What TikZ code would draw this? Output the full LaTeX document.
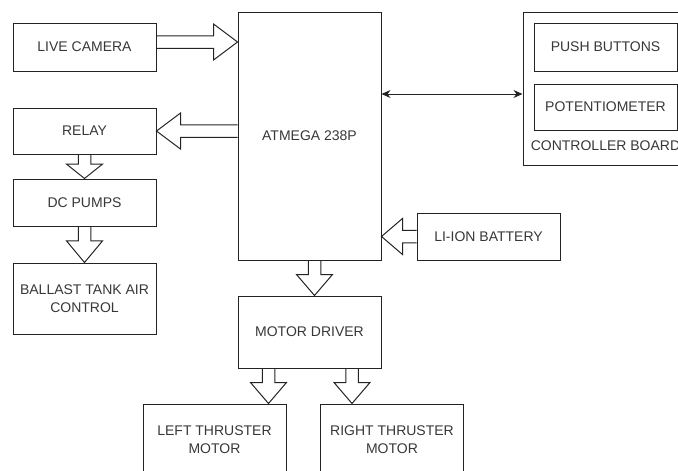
\documentclass[tikz,border=0pt]{standalone}
\usepackage{fontspec}
\setmainfont{Liberation Sans}
\usepackage{tikz}
\usetikzlibrary{arrows.meta,positioning,calc}
\definecolor{linegray}{RGB}{35,35,35}
\definecolor{textgray}{RGB}{55,55,55}

\begin{document}
\begin{tikzpicture}[
    x=1pt, y=1pt,
    blk/.style={draw=linegray, line width=1pt, minimum width=143pt, minimum height=47pt, align=center, text=textgray, font=\fontsize{14}{18}\selectfont},
    tall/.style={blk, minimum height=72pt},
    fat/.style={draw=linegray, line width=1pt, line join=miter,
      to path={let \p1=(\tikztostart), \p2=(\tikztotarget),
        \n1={atan2(\y2-\y1,\x2-\x1)}, \n2={veclen(\x2-\x1,\y2-\y1)}, \n3={min(24,0.6*\n2)} in
        ($(\p1)+(\n1+90:6.25pt)$) -- ($(\p2)+(\n1+180:\n3)+(\n1+90:6.25pt)$)
        -- ($(\p2)+(\n1+180:\n3)+(\n1+90:18pt)$) -- (\p2)
        -- ($(\p2)+(\n1+180:\n3)+(\n1-90:18pt)$) -- ($(\p2)+(\n1+180:\n3)+(\n1-90:6.25pt)$)
        -- ($(\p1)+(\n1-90:6.25pt)$)}},
    link/.style={{Stealth[length=9pt,width=8pt]}-{Stealth[length=9pt,width=8pt]}, line width=1pt, draw=linegray}
  ]
  \path[use as bounding box, clip] (0,0) rectangle (678,-471);
  \node[blk, minimum height=248pt] (mcu) at (309.5,-136) {ATMEGA 238P};
  \node[blk, minimum height=48pt] (cam) at (84.5,-47) {LIVE CAMERA};
  \node[blk, minimum height=46pt, below=36pt of cam] (relay) {RELAY};
  \node[blk, below=24pt of relay] (pumps) {DC PUMPS};
  \node[tall, minimum height=71pt, below=36pt of pumps] (ballast) {BALLAST TANK AIR\\CONTROL};
  \node[tall, below=35pt of mcu] (driver) {MOTOR DRIVER};
  \node[tall, below=35pt of driver, xshift=-95pt] (leftm) {LEFT THRUSTER\\MOTOR};
  \node[tall, below=35pt of driver, xshift=82.5pt] (rightm) {RIGHT THRUSTER\\MOTOR};
  \node[blk, right=35pt of mcu.south east, anchor=south west] (battery) {LI-ION BATTERY};
  \node[blk, minimum width=165pt, minimum height=153pt] (board) at (605.5,-88.5) {};
  \node[blk, minimum height=48pt, below=11pt of board.north] (push) {PUSH BUTTONS};
  \node[blk, minimum height=46pt, below=12pt of push] (pot) {POTENTIOMETER};
  \node[text=textgray, font=\fontsize{14}{18}\selectfont, inner sep=0pt, below=10pt of pot] (boardlbl) {CONTROLLER BOARD};

  \draw[fat] ([yshift=5pt]cam.east) to ([yshift=5pt]cam.east -| mcu.west);
  \draw[fat] (relay.east -| mcu.west) to (relay.east);
  \draw[fat] (relay.south) to (pumps.north);
  \draw[fat] (pumps.south) to (ballast.north);
  \draw[fat] ([xshift=5pt]mcu.south) to ([xshift=5pt]driver.north);
  \draw[fat] ([xshift=31pt]driver.south west) to ([xshift=31pt]driver.south west |- leftm.north);
  \draw[fat] ([xshift=-29.5pt]driver.south east) to ([xshift=-29.5pt]driver.south east |- rightm.north);
  \draw[fat] (battery.west) to (battery.west -| mcu.east);
  \draw[link] ([yshift=42pt]mcu.east) -- ([yshift=42pt]mcu.east -| board.west);
\end{tikzpicture}
\end{document}
